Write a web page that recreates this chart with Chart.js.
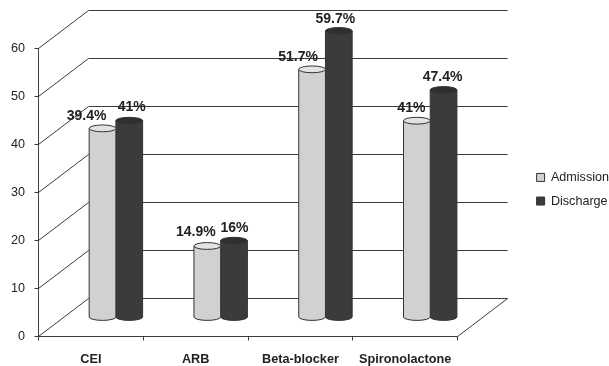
<!DOCTYPE html>
<html>
<head>
<meta charset="utf-8">
<style>
  html, body { margin: 0; padding: 0; background: #fff; }
  #wrap { width: 609px; height: 366px; }
</style>
<script src="https://cdn.jsdelivr.net/npm/chart.js@4/dist/chart.umd.min.js"></script>
</head>
<body>
<div id="wrap"><canvas id="chart" width="609" height="366"></canvas></div>
<script>
const categories = ['CEI', 'ARB', 'Beta-blocker', 'Spironolactone'];
const admission = [39.4, 14.9, 51.7, 41];
const discharge = [41, 16, 59.7, 47.4];
const yTicks = [0, 10, 20, 30, 40, 50, 60];

// nudges so the value labels sit where they do not collide with the next column
const admissionLabelShift = [[-16, -12], [-11.5, -13.5], [-14, -12.5], [-5.5, -13]];
const dischargeLabelShift = [[2.5, -13.5], [0.5, -13], [-3.5, -12], [-1, -13]];

const LINE = '#3c3c3c';
const DEPTH_X = 50;
const DEPTH_Y = 38;
const CAP_RY = 3.4;

function drawCylinder(ctx, bar, fill, capFill) {
  const cx = bar.x + DEPTH_X / 2;
  const rx = bar.width / 2;
  const top = bar.y - DEPTH_Y / 2;
  const base = bar.base - DEPTH_Y / 2;

  ctx.beginPath();
  ctx.moveTo(cx - rx, top);
  ctx.lineTo(cx - rx, base);
  ctx.ellipse(cx, base, rx, CAP_RY, 0, Math.PI, 0, true);
  ctx.lineTo(cx + rx, top);
  ctx.closePath();
  ctx.fillStyle = fill;
  ctx.fill();
  ctx.strokeStyle = '#333';
  ctx.lineWidth = 1;
  ctx.stroke();

  ctx.beginPath();
  ctx.ellipse(cx, top, rx, CAP_RY, 0, 0, Math.PI * 2);
  ctx.fillStyle = capFill;
  ctx.fill();
  ctx.stroke();
}

const walls = {
  id: 'walls',
  beforeDatasetsDraw(chart) {
    const { ctx, scales: { x, y } } = chart;
    ctx.save();
    ctx.strokeStyle = LINE;
    ctx.lineWidth = 1;
    ctx.beginPath();
    yTicks.forEach(v => {
      const py = y.getPixelForValue(v);
      ctx.moveTo(x.left, py);
      ctx.lineTo(x.left + DEPTH_X, py - DEPTH_Y);
      ctx.lineTo(x.right + DEPTH_X, py - DEPTH_Y);
    });
    // right edge of the floor
    const floor = y.getPixelForValue(0);
    ctx.moveTo(x.right, floor);
    ctx.lineTo(x.right + DEPTH_X, floor - DEPTH_Y);
    ctx.stroke();
    ctx.restore();
  }
};

const cylinders = {
  id: 'cylinders',
  beforeDatasetDraw(chart, args) {
    const ds = chart.data.datasets[args.index];
    const { ctx } = chart;
    ctx.save();
    args.meta.data.forEach(bar => drawCylinder(ctx, bar, ds.backgroundColor, ds.capColor));
    ctx.restore();
    return false;
  },
  afterDatasetsDraw(chart) {
    const { ctx } = chart;
    ctx.save();
    ctx.font = 'bold 14px "Liberation Sans", Arial, sans-serif';
    ctx.fillStyle = '#222';
    ctx.textAlign = 'center';
    ctx.textBaseline = 'middle';
    chart.data.datasets.forEach((ds, d) => {
      const shifts = d === 0 ? admissionLabelShift : dischargeLabelShift;
      chart.getDatasetMeta(d).data.forEach((bar, i) => {
        const px = bar.x + DEPTH_X / 2 + shifts[i][0];
        const py = bar.y - DEPTH_Y / 2 + shifts[i][1];
        ctx.fillText(ds.data[i] + '%', px, py);
      });
    });
    ctx.restore();
  }
};

// the legend stays out in the right margin, clear of the floor
const legendShift = {
  id: 'legendShift',
  afterLayout(chart) {
    const dx = 68, dy = -18;
    const l = chart.legend;
    l.left += dx;
    l.right += dx;
    l.top += dy;
    l.bottom += dy;
  }
};

new Chart(document.getElementById('chart'), {
  type: 'bar',
  data: {
    labels: categories,
    datasets: [
      { label: 'Admission', data: admission, backgroundColor: '#d0d1d3', capColor: '#e2e3e4', borderColor: '#333', borderWidth: 1 },
      { label: 'Discharge', data: discharge, backgroundColor: '#3b3b3b', capColor: '#2f2f2f', borderColor: '#333', borderWidth: 1 }
    ]
  },
  plugins: [walls, cylinders, legendShift],
  options: {
    responsive: false,
    animation: false,
    layout: { padding: { top: 48.5, right: 58, left: 0, bottom: 0 } },
    datasets: { bar: { categoryPercentage: 0.51, barPercentage: 1 } },
    plugins: {
      tooltip: { enabled: false },
      legend: {
        position: 'right',
        labels: {
          boxWidth: 8,
          boxHeight: 8,
          padding: 11,
          color: '#222',
          font: { family: '"Liberation Sans", Arial, sans-serif', size: 12.6 }
        }
      }
    },
    scales: {
      x: {
        afterFit(s) { s.height = 29.5; },
        border: { color: LINE },
        grid: { drawOnChartArea: false, color: LINE, tickLength: 4 },
        ticks: {
          padding: 11,
          color: '#222',
          maxRotation: 0,
          autoSkip: false,
          font: { family: '"Liberation Sans", Arial, sans-serif', size: 12.7, weight: 'bold' }
        }
      },
      y: {
        min: 0,
        max: 60,
        afterFit(s) { s.width = 38.5; },
        border: { color: LINE },
        grid: { drawOnChartArea: false, color: LINE, tickLength: 4 },
        afterBuildTicks(s) { s.ticks = yTicks.map(value => ({ value })); },
        ticks: {
          padding: 9.5,
          color: '#222',
          font: { family: '"Liberation Sans", Arial, sans-serif', size: 12.6 }
        }
      }
    }
  }
});
</script>
</body>
</html>
